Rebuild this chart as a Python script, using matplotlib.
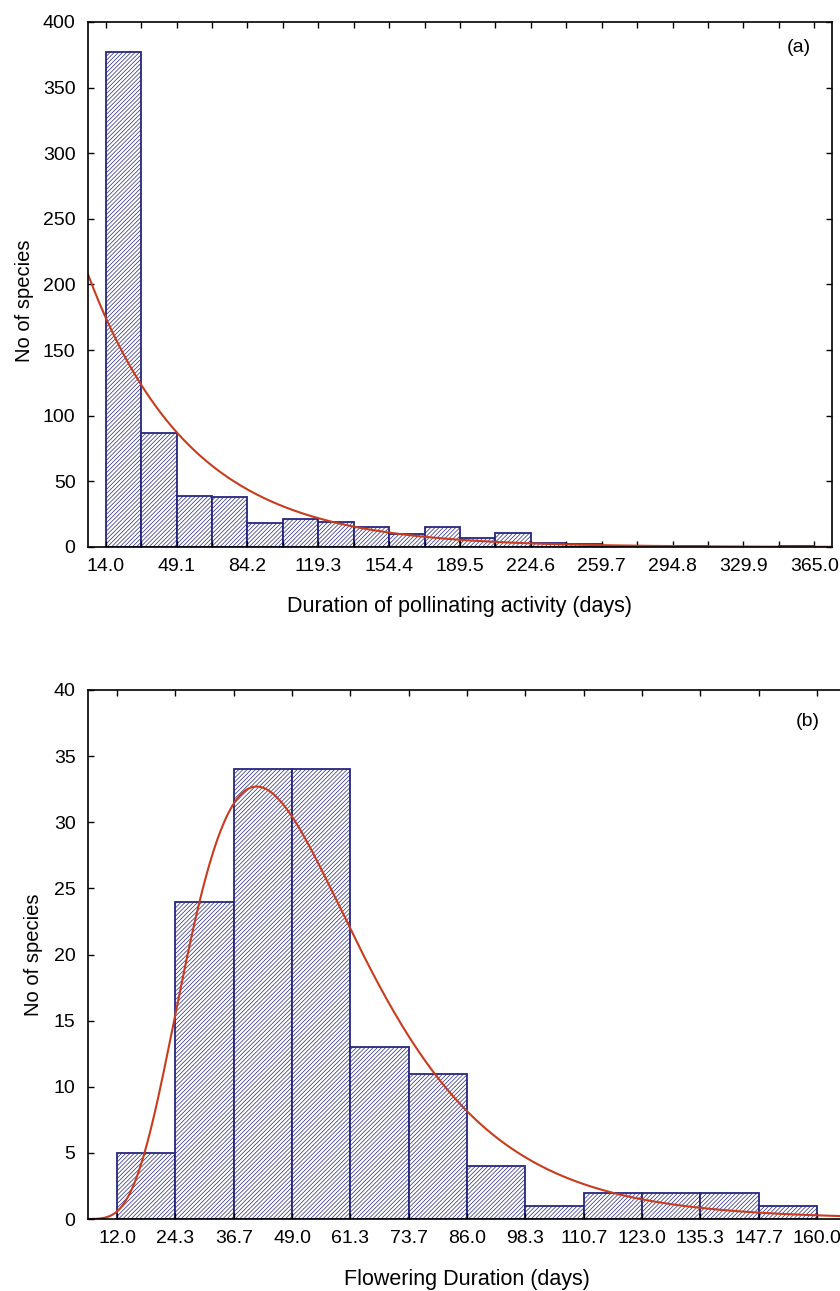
import numpy as np
import matplotlib
matplotlib.use("Agg")
import matplotlib.pyplot as plt

plt.rcParams['font.family'] = ['Liberation Sans', 'DejaVu Sans']
plt.rcParams['hatch.linewidth'] = 0.5

# (a) duration of pollinating activity
edges_a = [14.0, 31.55, 49.1, 66.65, 84.2, 101.75, 119.3, 136.85, 154.4, 171.95,
           189.5, 207.05, 224.6, 242.15, 259.7, 277.25, 294.8, 312.35, 329.9, 347.45, 365.0]
counts_a = [377, 87, 39, 38, 18, 21, 19, 15, 10, 15, 7, 11, 3, 2, 1, 1, 1, 0, 0, 1]
# exponential fit, rate
lambda_a = 0.0197

# (b) flowering duration
edges_b = [12.0, 24.3, 36.7, 49.0, 61.3, 73.7, 86.0, 98.3, 110.7, 123.0, 135.3, 147.7, 160.0]
counts_b = [5, 24, 34, 34, 13, 11, 4, 1, 2, 2, 2, 1]
# lognormal fit (log-scale mean and sd)
mu_b, sigma_b = 3.917, 0.437

NAVY = '#26267e'
RED = '#c83c1e'


def draw_hist(ax, edges, counts):
    edges = np.asarray(edges)
    ax.bar(edges[:-1], counts, width=np.diff(edges), align='edge',
           color='white', edgecolor=NAVY, hatch='////////', linewidth=1.3, zorder=1)


def style_axes(ax):
    for s in ax.spines.values():
        s.set_linewidth(1.2)
    ax.tick_params(which='both', direction='in', top=True, right=True,
                   length=4, width=1, labelsize=14)
    ax.tick_params(axis='x', which='both', pad=8)
    ax.tick_params(axis='y', which='both', pad=9)


fig = plt.figure(figsize=(8.4, 12.91), dpi=100)

# top panel
ax1 = fig.add_axes([88 / 840, 1 - 547 / 1291, 744 / 840, 525 / 1291])
draw_hist(ax1, edges_a, counts_a)
w_a = edges_a[1] - edges_a[0]
n_a = sum(counts_a)
xa = np.linspace(edges_a[0] - w_a / 2, edges_a[-1] + w_a / 2, 400)
ax1.plot(xa, n_a * w_a * lambda_a * np.exp(-lambda_a * xa), color=RED, lw=1.5, zorder=2)
ax1.set_xlim(edges_a[0] - w_a / 2, edges_a[-1] + w_a / 2)
ax1.set_ylim(0, 400)
ax1.set_yticks(np.arange(0, 401, 50))
ax1.set_xticks(edges_a[::2])
ax1.set_xticklabels([f"{v:.1f}" for v in edges_a[::2]])
ax1.set_xticks(edges_a[1::2], minor=True)
style_axes(ax1)
ax1.set_xlabel("Duration of pollinating activity (days)", fontsize=15.5, labelpad=15)
ax1.set_ylabel("No of species", fontsize=14.5)
ax1.yaxis.set_label_coords(-0.072, 0.47)
ax1.text(0.955, 0.952, "(a)", transform=ax1.transAxes, fontsize=14, ha='center', va='center')

# bottom panel
ax2 = fig.add_axes([88 / 840, 1 - 1219 / 1291, 758 / 840, 529 / 1291])
draw_hist(ax2, edges_b, counts_b)
w_b = edges_b[1] - edges_b[0]
n_b = sum(counts_b)
xb = np.linspace(edges_b[0] - w_b / 2 + 0.01, edges_b[-1] + w_b / 2, 400)
pdf_b = np.exp(-(np.log(xb) - mu_b) ** 2 / (2 * sigma_b ** 2)) / (xb * sigma_b * np.sqrt(2 * np.pi))
ax2.plot(xb, n_b * w_b * pdf_b, color=RED, lw=1.5, zorder=2)
ax2.set_xlim(edges_b[0] - w_b / 2, edges_b[-1] + w_b / 2)
ax2.set_ylim(0, 40)
ax2.set_yticks(np.arange(0, 41, 5))
ax2.set_xticks(edges_b)
ax2.set_xticklabels([f"{v:.1f}" for v in edges_b])
style_axes(ax2)
ax2.set_xlabel("Flowering Duration (days)", fontsize=15.5, labelpad=16)
ax2.set_ylabel("No of species", fontsize=14.5)
ax2.yaxis.set_label_coords(-0.06, 0.5)
fig.text(808 / 840, 1 - 721 / 1291, "(b)", fontsize=14, ha='center', va='center')

fig.savefig("out.png", dpi=100)
